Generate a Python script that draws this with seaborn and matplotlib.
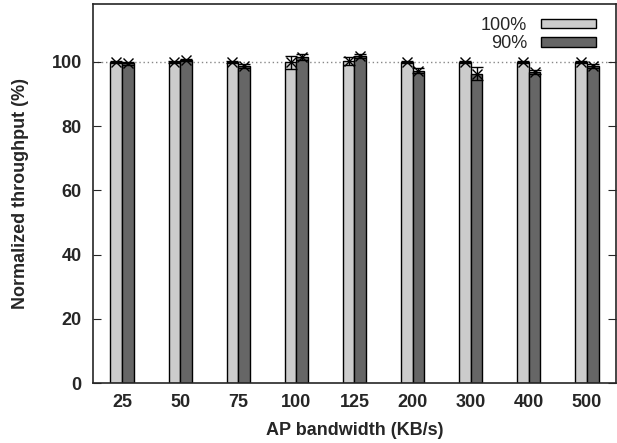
import seaborn as sns
import matplotlib.pyplot as plt
import pandas as pd

# AP bandwidth categories and normalized throughput (%)
bandwidth = ["25", "50", "75", "100", "125", "200", "300", "400", "500"]
full_mean = [100.0, 100.0, 100.0, 99.9, 100.2, 100.0, 100.0, 100.0, 100.0]
full_err = [0.3, 0.3, 0.3, 2.0, 1.2, 0.3, 0.3, 0.3, 0.3]
ninety_mean = [99.5, 100.5, 98.7, 101.5, 101.8, 97.2, 96.3, 96.8, 98.6]
ninety_err = [0.4, 0.4, 0.6, 0.8, 0.5, 0.8, 2.0, 0.7, 0.6]

df = pd.concat([
    pd.DataFrame({"bw": bandwidth, "val": full_mean, "err": full_err, "s": "100%"}),
    pd.DataFrame({"bw": bandwidth, "val": ninety_mean, "err": ninety_err, "s": "90%"}),
])

sns.set_style("ticks")
plt.rcParams["font.family"] = ["Liberation Sans", "DejaVu Sans"]

fig = plt.figure(figsize=(6.17, 4.43), dpi=100)
ax = fig.add_axes([0.1507, 0.1354, 0.8477, 0.8556])

ax.axhline(100, color="#888888", linestyle=(0, (1, 2)), linewidth=1, zorder=0)

sns.barplot(data=df, x="bw", y="val", hue="s", order=bandwidth,
            palette={"100%": "#cccccc", "90%": "#666666"},
            width=0.4, edgecolor="black", linewidth=1, errorbar=None,
            saturation=1, ax=ax)

# error bars on each bar
n = len(bandwidth)
for i, p in enumerate(ax.patches[:2 * n]):
    row = df.iloc[i]
    cx = p.get_x() + p.get_width() / 2
    ax.errorbar(cx, row["val"], yerr=row["err"], fmt="x", color="black",
                markersize=7, mew=1, capsize=4, elinewidth=1, capthick=1, zorder=5)

ax.set_ylim(0, 118)
ax.set_xlim(-0.5, n - 0.5)
ax.set_yticks([0, 20, 40, 60, 80, 100])
ax.tick_params(axis="y", direction="in", length=6, right=True, labelsize=13, pad=8)
ax.tick_params(axis="x", length=0, labelsize=13, pad=8)
for lab in ax.get_xticklabels() + ax.get_yticklabels():
    lab.set_fontweight("bold")
for sp in ax.spines.values():
    sp.set_visible(True)
    sp.set_linewidth(1.2)

ax.set_xlabel("AP bandwidth (KB/s)", fontsize=13, fontweight="bold", labelpad=8)
ax.set_ylabel("Normalized throughput (%)", fontsize=13, fontweight="bold", labelpad=16)

leg = ax.legend(loc="upper right", frameon=False, markerfirst=False, fontsize=13,
                handlelength=3.0, handleheight=0.4, labelspacing=0.1,
                borderaxespad=0.3, bbox_to_anchor=(0.985, 1.0))
for h in leg.legend_handles:
    h.set_edgecolor("black")
    h.set_linewidth(1)

fig.savefig("out.png", dpi=100)
